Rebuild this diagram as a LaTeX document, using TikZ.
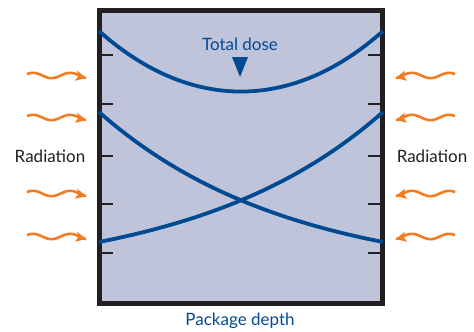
\documentclass[tikz,border=0pt]{standalone}
\usepackage{fontspec}
\setmainfont{Lato}
\usetikzlibrary{arrows.meta, positioning}

\definecolor{pkgfill}{HTML}{BFC4DB}
\definecolor{pkgline}{HTML}{231F20}
\definecolor{doseblue}{HTML}{004A94}
\definecolor{radorange}{HTML}{F47B20}

\begin{document}
\begin{tikzpicture}[
    x=1pt, y=-1pt,
    pkg/.style={rectangle, draw=pkgline, fill=pkgfill, line width=5pt, minimum width=283pt, minimum height=293pt, inner sep=0pt},
    tick/.style={pkgline, line width=2.5pt},
    curve/.style={doseblue, line width=3.8pt},
    wave/.style={radorange, line width=2.6pt, -{Stealth[length=10pt, width=10pt, inset=2pt]}},
    lbl/.style={font=\fontsize{17}{20}\selectfont, text=pkgline, inner sep=0pt},
    bluelbl/.style={font=\fontsize{17}{20}\selectfont, text=doseblue, inner sep=0pt}
]
\useasboundingbox (0,0) rectangle (474,332);

% package cross section
\node[pkg] (pkg) at (241,157) {};

% depth ticks
\foreach \ty in {55,104,156,204,253} {
    \draw[tick] (100,\ty) -- (113,\ty);
    \draw[tick] (368,\ty) -- (381,\ty);
}

% dose profiles
\draw[curve, domain=0:1, samples=60, smooth]
    plot ({99+284*\x}, {242-130*(exp(-1.5*\x)-exp(-1.5))/(1-exp(-1.5))});
\draw[curve, domain=0:1, samples=60, smooth]
    plot ({99+284*\x}, {242-130*(exp(-1.5*(1-\x))-exp(-1.5))/(1-exp(-1.5))});
\draw[curve, domain=0:1, samples=60, smooth]
    plot ({99+284*\x}, {200-169*((exp(-1.5*\x)+exp(-1.5*(1-\x))-2*exp(-1.5))/(1-exp(-1.5)))});

% labels
\node[bluelbl] (dose) at (240,44) {Total dose};
\coordinate (doseptr) at (240,57);
\fill[doseblue] (doseptr) ++(-8,0) -- ++(16,0) -- ++(-8,20) -- cycle;
\node[bluelbl] (depth) at (240,321) {Package depth};
\node[lbl] (radl) at (50,156) {Radiation};
\node[lbl] (radr) at (432,156) {Radiation};

% incoming radiation
\foreach \wy [count=\i] in {75,117,193,236} {
    \coordinate (wl\i) at (27,\wy+0.5);
    \coordinate (wr\i) at (455,\wy+0.5);
    \draw[wave, shift={(wl\i)}] plot[domain=0:59, samples=40, smooth]
        (\x, {-2.7*cos(deg(2*pi*(\x-6)/37))});
    \draw[wave, shift={(wr\i)}] plot[domain=0:59, samples=40, smooth]
        (-\x, {-2.7*cos(deg(2*pi*(\x-6)/37))});
}

\end{tikzpicture}
\end{document}
